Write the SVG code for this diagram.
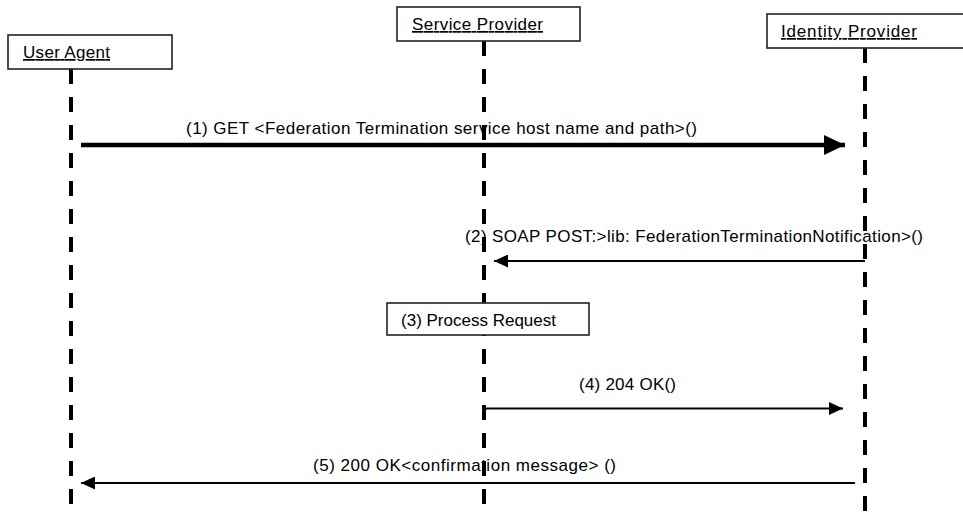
<svg xmlns="http://www.w3.org/2000/svg" width="963" height="513" viewBox="0 0 963 513">
<defs>
<style>
.box{fill:#fff;stroke:#222;stroke-width:1.6}
.lbl{font-family:"Liberation Sans",Arial,sans-serif;font-size:17px;fill:#000}
.ul{text-decoration:underline}
.life{stroke:#000;stroke-width:4;stroke-dasharray:15 13;fill:none}
.msg{stroke:#000;stroke-width:2;fill:none}
.thick{stroke:#000;stroke-width:4.5;fill:none}
</style>
<marker id="ah" viewBox="0 0 14 13" refX="14" refY="6.5" markerWidth="14" markerHeight="13" markerUnits="userSpaceOnUse" orient="auto">
<path d="M0,0 L14,6.5 L0,13 Z" fill="#000"/>
</marker>
<marker id="ahBig" viewBox="0 0 21 20" refX="21" refY="10" markerWidth="21" markerHeight="20" markerUnits="userSpaceOnUse" orient="auto">
<path d="M0,0 L21,10 L0,20 Z" fill="#000"/>
</marker>
</defs>
<rect width="963" height="513" fill="#fff"/>
<g id="connectors">
<line class="thick" x1="81" y1="145" x2="845" y2="145" marker-end="url(#ahBig)"/>
<text class="lbl" x="186" y="134" textLength="511">(1) GET &lt;Federation Termination service host name and path&gt;()</text>
<line class="msg" x1="865" y1="261" x2="494" y2="261" marker-end="url(#ah)"/>
<text class="lbl" x="465" y="242" textLength="458">(2) SOAP POST:&gt;lib: FederationTerminationNotification&gt;()</text>
<line class="msg" x1="484" y1="408.5" x2="843" y2="408.5" marker-end="url(#ah)"/>
<text class="lbl" x="579" y="390" textLength="97">(4) 204 OK()</text>
<line class="msg" x1="855" y1="483" x2="81" y2="483" marker-end="url(#ah)"/>
<text class="lbl" x="313" y="471" textLength="303">(5) 200 OK&lt;confirmation message&gt; ()</text>
</g>
<g id="lifelines">
<line class="life" x1="71" y1="69" x2="71" y2="513"/>
<line class="life" x1="484" y1="41" x2="484" y2="513"/>
<line class="life" x1="865" y1="48" x2="865" y2="513"/>
</g>
<g id="user-agent">
<rect class="box" x="8" y="35" width="164" height="34"/>
<text class="lbl ul" x="23" y="58" textLength="87">User Agent</text>
</g>
<g id="service-provider">
<rect class="box" x="397" y="7" width="183" height="34"/>
<text class="lbl ul" x="412" y="30" textLength="131">Service Provider</text>
</g>
<g id="identity-provider">
<rect class="box" x="767" y="14" width="200" height="34"/>
<text class="lbl ul" x="781" y="37" textLength="136">Identity Provider</text>
</g>
<g id="process-request">
<rect class="box" x="387" y="303" width="202" height="32"/>
<text class="lbl" x="401" y="325.5" textLength="155">(3) Process Request</text>
</g>
</svg>
